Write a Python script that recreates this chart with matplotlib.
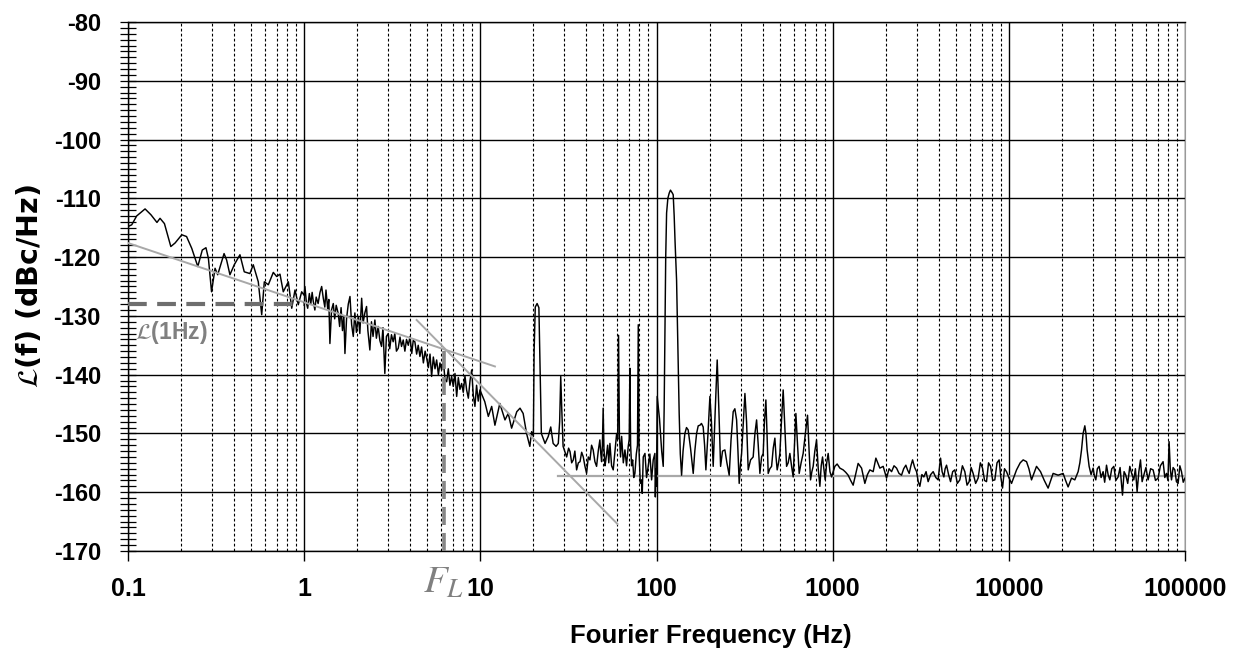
import numpy as np
import matplotlib
matplotlib.use("Agg")
import matplotlib.pyplot as plt
from matplotlib.ticker import MultipleLocator, LogLocator, NullFormatter

plt.rcParams['font.family'] = ['Liberation Sans', 'DejaVu Sans']
plt.rcParams['axes.unicode_minus'] = False

# ---------------- data ----------------
# 0.1 - 1 Hz
f1 = [0.100, 0.105, 0.112, 0.125, 0.135, 0.146, 0.152, 0.161, 0.175, 0.185,
      0.202, 0.215, 0.230, 0.249, 0.264, 0.277, 0.286, 0.298, 0.312, 0.323,
      0.351, 0.363, 0.379, 0.401, 0.432, 0.457, 0.492, 0.514, 0.549, 0.574,
      0.594, 0.626, 0.668, 0.698, 0.729, 0.761, 0.813, 0.850, 0.887, 0.926,
      0.968]
L1 = [-114.8, -114.5, -113.0, -111.8, -112.8, -114.1, -113.4, -114.3, -118.2, -117.6,
      -116.2, -116.5, -118.5, -121.6, -118.8, -118.4, -120.2, -125.9, -121.9, -123.0,
      -119.4, -120.5, -123.0, -121.3, -119.6, -122.5, -122.8, -121.3, -124.2, -129.8,
      -124.2, -124.7, -122.6, -123.3, -122.9, -125.9, -124.2, -128.7, -125.6, -128.1,
      -125.9]

# 1 - 10 Hz
f2 = [1.00, 1.01, 1.03, 1.047, 1.07, 1.09, 1.11, 1.126, 1.15, 1.17,
      1.20, 1.23, 1.257, 1.284, 1.31, 1.33, 1.36, 1.38, 1.40, 1.43,
      1.463, 1.49, 1.52, 1.561, 1.59, 1.62, 1.65, 1.68, 1.704, 1.74,
      1.78, 1.82, 1.86, 1.90, 1.94, 1.98, 2.03, 2.07, 2.12, 2.16,
      2.21, 2.26, 2.30, 2.36, 2.41, 2.46, 2.52, 2.57, 2.63, 2.69,
      2.75, 2.80, 2.87, 2.93, 3.00, 3.06, 3.13, 3.20, 3.27, 3.34,
      3.42, 3.50, 3.57, 3.65, 3.73, 3.81, 3.90, 3.99, 4.08, 4.16,
      4.25, 4.35, 4.44, 4.54, 4.64, 4.75, 4.86, 4.96, 5.07, 5.18,
      5.29, 5.41, 5.53, 5.65, 5.78, 5.90, 6.03, 6.17, 6.30, 6.44,
      6.58, 6.72, 6.87, 7.02, 7.18, 7.34, 7.50, 7.66, 7.83, 8.00,
      8.18, 8.36, 8.55, 8.74, 8.93, 9.12, 9.32, 9.52, 9.73, 9.95]
L2 = [-126.5, -125.0, -127.8, -128.7, -126.2, -128.0, -126.0, -127.5, -129.0, -126.8,
      -127.9, -126.0, -125.0, -127.0, -128.5, -125.6, -128.8, -127.2, -134.7, -129.0,
      -127.9, -130.5, -128.2, -129.6, -131.8, -128.6, -132.5, -130.0, -136.4, -130.5,
      -128.0, -126.7, -131.5, -133.5, -129.5, -132.8, -130.1, -133.0, -127.0, -131.2,
      -129.5, -128.4, -132.5, -135.8, -131.0, -133.5, -130.7, -133.8, -131.8, -134.2,
      -135.2, -132.0, -139.8, -133.5, -133.0, -135.6, -133.2, -134.4, -133.0, -136.0,
      -135.5, -133.6, -135.2, -134.1, -136.0, -134.0, -135.0, -133.5, -136.4, -134.2,
      -134.4, -136.5, -135.0, -136.9, -135.3, -138.0, -136.0, -137.2, -138.8, -136.5,
      -140.3, -137.0, -139.0, -137.5, -140.0, -138.0, -139.2, -137.8, -140.8, -141.2,
      -139.0, -141.8, -140.3, -142.0, -139.8, -143.7, -140.5, -142.5, -141.5, -143.0,
      -140.2, -142.6, -144.0, -141.0, -139.2, -143.5, -145.4, -141.8, -144.5, -142.6]

# 10 - 100 Hz
f3 = [10.6, 11.1, 11.6, 12.1, 12.9, 13.8, 14.4, 15.05, 16.1, 16.8,
      17.5, 18.3, 19.1, 19.55, 20.0, 20.2, 20.5, 21.0, 21.5, 21.8,
      22.2, 23.3, 24.3, 25.1, 25.9, 26.9, 27.7, 28.2, 28.6, 29.0,
      29.5, 30.9, 31.7, 32.3, 33.0, 33.7, 34.4, 35.2, 36.0, 36.8,
      37.6, 38.4, 39.2, 40.1, 41.0, 41.9, 42.8, 43.7, 44.7, 45.7,
      46.7, 47.7, 48.3, 48.8, 49.3, 49.8, 50.3, 51.0, 51.6, 52.8,
      53.6, 54.4, 55.6, 56.8, 58.1, 59.4, 60.2, 60.9, 61.6, 62.5,
      63.4, 64.8, 66.2, 67.6, 69.1, 70.0, 70.6, 71.3, 72.2, 73.2,
      74.3, 75.4, 76.8, 78.0, 78.8, 79.6, 80.9, 82.3, 83.0, 84.1,
      86.0, 87.8, 89.7, 91.7, 93.8, 95.8, 97.9, 98.5, 99.3, 100.0]
L3 = [-144.6, -147.1, -145.4, -148.6, -144.9, -147.7, -146.6, -149.1, -146.3, -145.7,
      -146.6, -150.0, -152.2, -149.7, -150.5, -136.0, -128.5, -127.9, -128.6, -138.0,
      -150.0, -151.7, -150.5, -148.9, -151.7, -152.2, -151.7, -148.0, -140.3, -146.0,
      -152.2, -154.0, -152.5, -153.1, -155.0, -154.5, -153.0, -156.2, -155.0, -154.8,
      -153.2, -154.0, -155.5, -156.8, -154.0, -154.5, -152.0, -152.8, -154.8, -155.6,
      -153.0, -151.1, -153.5, -154.8, -152.0, -145.7, -152.5, -155.5, -154.5, -152.0,
      -155.0, -151.7, -155.5, -156.2, -153.0, -150.0, -151.0, -133.3, -150.5, -154.0,
      -150.5, -155.0, -152.8, -155.5, -152.2, -151.0, -138.9, -152.0, -155.5, -154.5,
      -157.5, -156.8, -153.5, -152.0, -131.5, -153.0, -158.5, -157.9, -160.2, -154.0,
      -153.4, -157.5, -155.6, -153.5, -157.9, -154.5, -153.4, -160.8, -156.0, -159.0]

# 100 - 1000 Hz
f4 = [100.9, 104.0, 107.0, 109.2, 110.5, 111.6, 112.8, 114.1, 116.0, 118.1,
      120.0, 121.8, 123.0, 124.4, 126.0, 127.5, 130.0, 132.2, 134.5, 136.5,
      138.8, 141.5, 144.9, 148.0, 151.3, 156.0, 161.6, 165.0, 168.9, 172.5,
      176.4, 180.0, 184.1, 187.5, 190.7, 196.0, 201.0, 205.0, 209.8, 215.5,
      221.1, 226.0, 231.1, 237.0, 244.5, 251.0, 258.6, 265.0, 272.5, 278.5,
      284.9, 290.0, 294.7, 299.0, 304.1, 311.0, 317.6, 324.5, 331.5, 342.0,
      353.8, 362.0, 370.0, 378.0, 386.3, 395.0, 403.3, 410.0, 417.7, 424.0,
      430.5, 440.0, 450.1, 460.0, 469.9, 477.0, 484.2, 493.0, 501.5, 512.0,
      523.7, 535.0, 547.5, 559.0, 571.6, 584.0, 596.8, 607.0, 618.3, 632.0,
      645.5, 662.0, 680.0, 700.0, 720.0, 735.0, 749.0, 762.0, 775.0, 792.0,
      810.0, 828.0, 846.0, 861.0, 876.0, 891.0, 907.0, 925.0, 943.0, 965.0,
      986.0]
L4 = [-143.7, -147.5, -153.0, -155.6, -146.0, -133.0, -120.0, -112.5, -110.0, -109.1,
      -108.6, -108.9, -109.1, -109.4, -113.0, -117.5, -123.9, -135.0, -146.6, -153.5,
      -157.1, -153.0, -150.0, -149.0, -149.4, -152.5, -156.8, -153.0, -150.0, -148.7,
      -148.6, -148.3, -148.9, -152.0, -156.2, -150.0, -143.7, -148.0, -155.6, -146.0,
      -137.5, -146.0, -155.6, -153.0, -152.8, -155.0, -157.1, -151.0, -146.3, -145.8,
      -147.7, -153.0, -158.5, -155.5, -153.4, -148.0, -143.2, -148.0, -156.2, -154.5,
      -154.0, -150.0, -147.7, -152.0, -156.8, -154.0, -153.4, -148.0, -144.3, -150.0,
      -156.8, -156.0, -155.6, -152.5, -150.8, -154.0, -156.2, -155.0, -153.4, -148.0,
      -142.6, -149.0, -155.6, -155.0, -153.4, -155.5, -157.4, -152.0, -146.6, -152.0,
      -156.8, -155.0, -153.4, -150.0, -146.9, -153.0, -157.9, -156.5, -155.6, -153.0,
      -151.1, -156.0, -159.0, -155.5, -154.0, -156.0, -157.9, -155.0, -153.4, -156.5,
      -157.4]

# 1 kHz - 10 kHz
f5 = [1029, 1060, 1099, 1147, 1185, 1224, 1265, 1307, 1350, 1395,
      1459, 1523, 1575, 1626, 1698, 1759, 1853, 1935, 2022, 2090,
      2160, 2230, 2305, 2380, 2460, 2530, 2603, 2660, 2719, 2780,
      2842, 2920, 2994, 3060, 3125, 3210, 3293, 3390, 3483, 3600,
      3720, 3850, 3970, 4030, 4097, 4180, 4277, 4350, 4430, 4550,
      4668, 4800, 4937, 5100, 5270, 5450, 5627, 5790, 5953, 6110,
      6271, 6480, 6695, 6890, 7090, 7280, 7470, 7670, 7875, 8100,
      8327, 8570, 8810, 9010, 9210, 9450, 9700, 10000]
L5 = [-155.6, -155.2, -155.9, -156.2, -156.6, -157.1, -158.0, -158.8, -157.0, -155.1,
      -155.9, -158.5, -157.0, -156.2, -156.5, -154.2, -155.9, -155.6, -157.6, -156.0,
      -156.5, -155.5, -155.9, -156.8, -157.1, -156.0, -155.4, -156.2, -156.8, -155.5,
      -154.5, -155.8, -156.5, -158.2, -159.0, -157.0, -157.4, -156.5, -158.2, -157.0,
      -156.5, -157.5, -157.9, -156.0, -154.2, -156.5, -157.4, -156.0, -155.4, -157.0,
      -158.2, -156.5, -156.2, -158.5, -157.9, -155.5, -156.5, -158.8, -158.2, -155.8,
      -156.8, -158.5, -157.6, -155.0, -155.9, -158.0, -158.2, -155.0, -155.6, -158.0,
      -157.9, -155.0, -154.5, -157.5, -159.3, -156.0, -156.5, -157.5]

# 10 kHz - 100 kHz
f6 = [10360, 11060, 11600, 12060, 12600, 13000, 13450, 14360, 15130, 15900,
      16710, 17840, 19050, 20330, 21000, 21700, 22690, 23690, 24740, 25300,
      25860, 26400, 27000, 27400, 27820, 28560, 29300, 30090, 30600, 31170,
      31800, 32540, 33400, 34290, 35000, 35850, 36600, 37440, 38400, 39440,
      40500, 41720, 42800, 44180, 45100, 46130, 47300, 48610, 49800, 51200,
      52300, 53480, 54700, 55890, 57100, 58370, 60000, 61740, 63800, 65920,
      68000, 70360, 72500, 75100, 76800, 78520, 80000, 81240, 82500, 83830,
      85600, 87530, 89400, 91380, 93500, 95520, 97700, 100000]
L6 = [-158.5, -156.2, -155.0, -154.5, -154.8, -156.0, -157.9, -155.6, -156.5, -158.0,
      -159.3, -156.8, -157.1, -156.8, -158.0, -159.1, -157.6, -157.9, -156.5, -155.0,
      -152.8, -150.0, -148.7, -150.0, -152.8, -155.6, -157.0, -155.9, -157.2, -157.9,
      -156.0, -155.6, -157.5, -156.5, -158.3, -155.4, -157.0, -157.9, -156.0, -155.6,
      -158.0, -157.4, -155.8, -160.5, -156.5, -157.1, -158.5, -155.6, -156.8, -157.9,
      -156.0, -159.9, -156.5, -154.5, -158.2, -157.1, -155.8, -157.9, -156.0, -156.2,
      -158.0, -157.6, -155.5, -154.8, -157.5, -156.8, -158.0, -151.4, -156.0, -157.9,
      -155.8, -156.2, -158.2, -158.5, -155.5, -156.5, -158.3, -157.6]

# asymptote (slope) lines
flicker_f = [0.1, 12.1]          # -10 dB/decade
flicker_L = [-117.6, -138.6]
steep_f = [4.35, 60.0]           # -30 dB/decade
steep_L = [-130.7, -165.4]
floor_f = [27.7, 100000]
floor_L = [-157.3, -157.3]
L1Hz_f = [0.1, 1.0]
L1Hz_L = [-128.0, -128.0]
FL_f = [6.2, 6.2]
FL_L = [-170.0, -135.4]

xtick_vals = [0.1, 1, 10, 100, 1000, 10000, 100000]
xtick_labels = ['0.1', '1', '10', '100', '1000', '10000', '100000']
ytick_vals = list(range(-170, -79, 10))
ytick_labels = [str(v) for v in ytick_vals]

segs_f = [f1, f2, f3, f4, f5, f6]
segs_L = [L1, L2, L3, L4, L5, L6]
for a, b in zip(segs_f, segs_L):
    assert len(a) == len(b), (len(a), len(b))
freq = np.concatenate([np.asarray(s, float) for s in segs_f])
phase_noise = np.concatenate([np.asarray(s, float) for s in segs_L])

# ---------------- figure ----------------
W, H = 1242, 654
fig = plt.figure(figsize=(W / 100, H / 100), dpi=100)
ax = fig.add_axes([128 / W, 1 - 551 / H, (1185 - 128) / W, (551 - 22) / H])

ax.set_xscale('log')
ax.set_xlim(0.1, 100000)
ax.set_ylim(-170, -80)

ax.plot(freq, phase_noise, color='black', lw=1.05, zorder=3)

gray_line = '#a8a8a8'
ax.plot(flicker_f, flicker_L, color=gray_line, lw=1.4, zorder=4)
ax.plot(steep_f, steep_L, color=gray_line, lw=1.4, zorder=4)
ax.plot(floor_f, floor_L, color=gray_line, lw=1.6, zorder=2.8)
ax.plot(L1Hz_f, L1Hz_L, color='#6e6e6e', lw=3.0, dashes=(4.5, 2.5), zorder=4)
ax.plot(FL_f, FL_L, color='#858585', lw=2.6, dashes=(5, 2.2), zorder=4)

# grid
ax.grid(True, which='major', axis='both', color='black', lw=1.0, ls='-')
ax.xaxis.grid(True, which='minor', color='black', lw=0.8, ls=(0, (2.5, 2)))

# ticks
ax.set_xticks(xtick_vals)
ax.set_xticklabels(xtick_labels)
ax.xaxis.set_minor_locator(LogLocator(base=10, subs=np.arange(2, 10), numticks=50))
ax.xaxis.set_minor_formatter(NullFormatter())
ax.set_yticks(ytick_vals)
ax.set_yticklabels(ytick_labels)
ax.yaxis.set_minor_locator(MultipleLocator(1))

ax.tick_params(axis='x', which='major', direction='out', length=7, width=1,
               pad=12, labelsize=18)
ax.tick_params(axis='x', which='minor', length=0)
ax.tick_params(axis='y', which='both', direction='inout', length=11, width=0.9,
               pad=14, labelsize=17)
for lab in ax.get_xticklabels() + ax.get_yticklabels():
    lab.set_fontweight('bold')

for s in ['left', 'bottom', 'top']:
    ax.spines[s].set_color('black')
    ax.spines[s].set_linewidth(1.0)
ax.spines['right'].set_color('#999999')

# labels
ax.set_xlabel('Fourier Frequency (Hz)', fontsize=18.5, fontweight='bold')
ax.xaxis.set_label_coords((711 - 128) / (1185 - 128), (551 - 636) / (551 - 22))
ax.xaxis.label.set_verticalalignment('center')

ax.set_ylabel(r'$\mathcal{L}$(f) (dBc/Hz)', fontsize=20.5, fontweight='bold',
              family=['DejaVu Sans'], math_fontfamily='stix')
ax.yaxis.set_label_coords((30 - 128) / (1185 - 128), 0.5)
ax.yaxis.label.set_verticalalignment('center')

ax.text(0.1096, -132.9, r'$\mathcal{L}$(1Hz)', color='#808080', fontsize=16.5,
        fontweight='bold', math_fontfamily='stix', ha='left', va='center', zorder=5)

ax.text(6.2, (551 - 583) / (551 - 22), r'$F_L$', transform=ax.get_xaxis_transform(),
        color='#808080', fontsize=28, math_fontfamily='stix', ha='center', va='center',
        clip_on=False)

fig.savefig('out.png', dpi=100)
